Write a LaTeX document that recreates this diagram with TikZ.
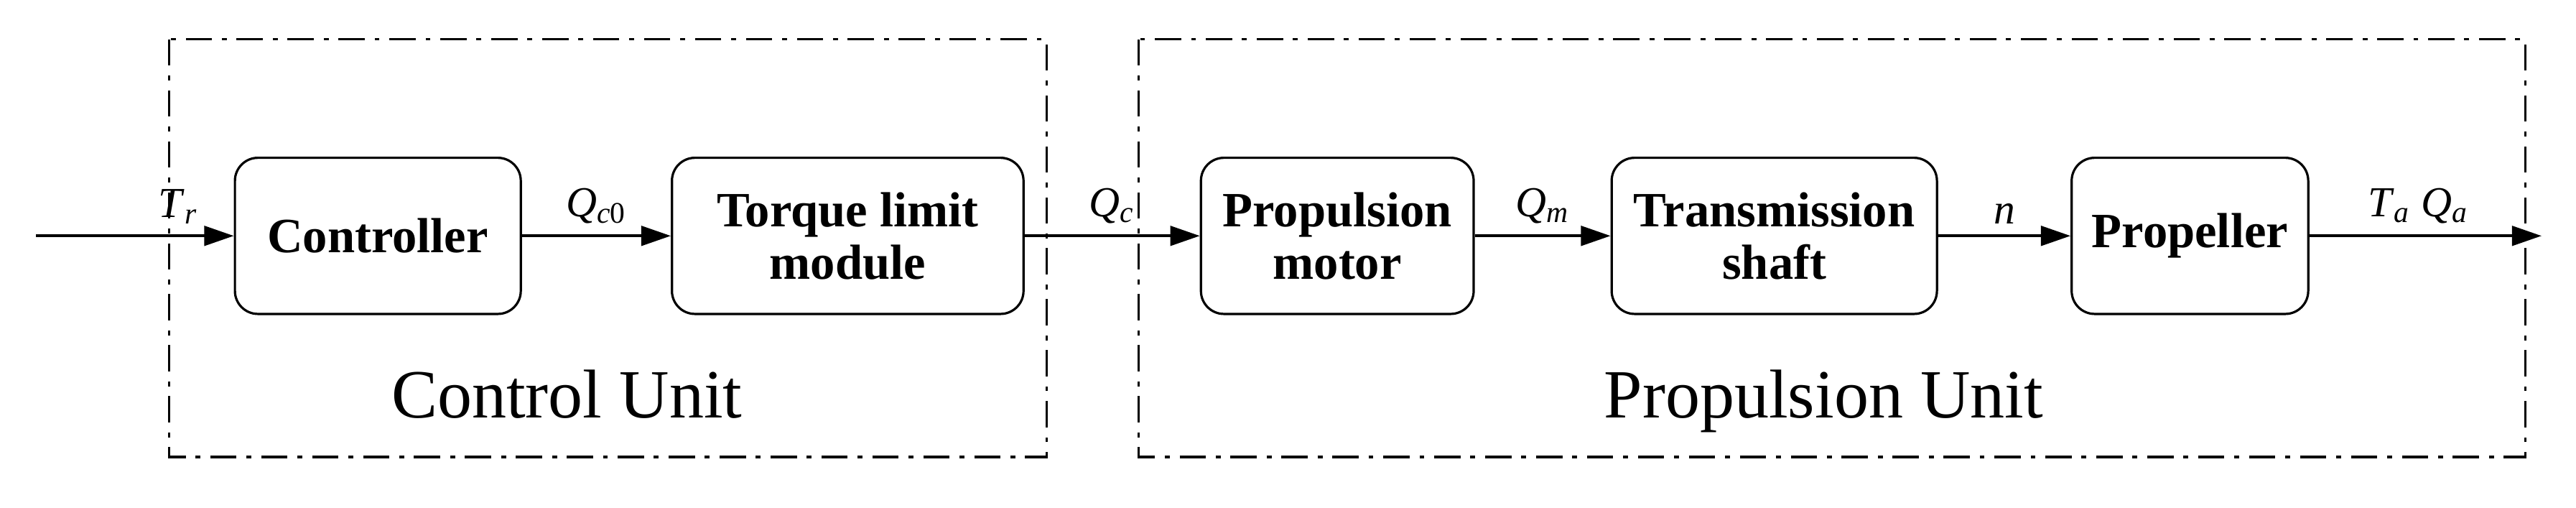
\documentclass[tikz,border=0pt]{standalone}
\usepackage{fontspec}
\setmainfont{Liberation Serif}
\usetikzlibrary{arrows.meta}
\newcommand{\lbl}[2]{\textit{#1}\textsubscript{\textit{#2}}}
\begin{document}
\begin{tikzpicture}[x=0.5pt,y=-0.5pt,
  blk/.style={draw,line width=0.7pt,rounded corners=7pt,align=center,font=\fontsize{15}{16}\selectfont\bfseries,inner sep=0pt},
  unit/.style={draw,line width=0.7pt,dash pattern=on 8pt off 3pt on 1.5pt off 3pt},
  arr/.style={line width=0.8pt,-{Triangle[length=9pt,width=6pt]}},
  lab/.style={font=\fontsize{13}{14}\selectfont,above},
  ttl/.style={font=\fontsize{21}{24}\selectfont,anchor=base}]
\useasboundingbox (0,0) rectangle (1568,309);
\draw[unit] (103,24) rectangle (637,278);
\draw[unit] (693,24) rectangle (1537,278);
\node[blk,minimum width=87pt,minimum height=47.5pt] (c) at (230,143.5) {Controller};
\node[blk,minimum width=107pt,minimum height=47.5pt] (t) at (516,143.5) {Torque limit\\module};
\node[blk,minimum width=83pt,minimum height=47.5pt] (m) at (814,143.5) {Propulsion\\motor};
\node[blk,minimum width=99pt,minimum height=47.5pt] (s) at (1080,143.5) {Transmission\\shaft};
\node[blk,minimum width=72pt,minimum height=47.5pt] (p) at (1333,143.5) {Propeller};
\node[ttl] (cu) at (345,254) {Control Unit};
\node[ttl] (pu) at (1110,254) {Propulsion Unit};
\coordinate (in) at (22,143.5);
\coordinate (out) at (1547,143.5);
\draw[arr] (in) -- node[lab,pos=0.72] {\lbl{T}{r}} (c);
\draw[arr] (c) -- node[lab] {\textit{Q}\textsubscript{\textit{c}0}} (t);
\draw[arr] (t) -- node[lab] {\lbl{Q}{c}} (m);
\draw[arr] (m) -- node[lab] {\lbl{Q}{m}} (s);
\draw[arr] (s) -- node[lab] {\textit{n}} (p);
\draw[arr] (p) -- node[lab,pos=0.47] {\lbl{T}{a} \lbl{Q}{a}} (out);
\end{tikzpicture}
\end{document}
